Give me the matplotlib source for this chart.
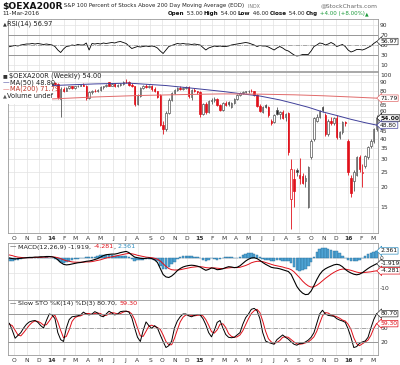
import numpy as np
import pandas as pd
import matplotlib
matplotlib.use('Agg')
import matplotlib.pyplot as plt
import matplotlib.dates as mdates
from matplotlib.patches import Rectangle
from matplotlib.transforms import IdentityTransform

# weekly bars, 20-Sep-2013 .. 11-Mar-2016
weeks = pd.date_range('2013-09-20', periods=130, freq='W-FRI')

opens = [84, 85, 86, 82, 85, 88, 86, 87, 84, 87, 89, 87, 85, 87, 88,
         88, 89, 88, 71, 82, 80, 83, 85, 83, 85, 86, 87, 86, 72, 78,
         80, 79, 81, 84, 85, 90, 86, 88, 85, 87, 88, 91, 90, 87, 85,
         66, 74, 83, 86, 84, 85, 82, 79, 75, 49, 46, 58, 70, 77, 81,
         83, 82, 83, 84, 73, 81, 79, 78, 57, 66, 59, 69, 70, 71, 65,
         61, 67, 68, 63, 67, 71, 75, 77, 78, 79, 80, 79, 75, 64, 59,
         65, 63, 52, 51, 61, 57, 59, 55, 58, 17, 22.5, 25.5, 24, 23.5, 22,
         15, 31, 40, 52, 55, 63, 56, 43, 52, 50, 54, 41, 44, 51, 39,
         23, 22, 24, 31, 24.5, 27, 31, 36, 39, 46]
highs = [86, 87, 87, 86, 89, 89, 88, 88, 88, 90, 90, 88, 88, 89, 90,
         90, 91, 89, 84, 84, 84, 86, 86, 86, 87, 88, 89, 87, 80, 81,
         82, 82, 85, 86, 88, 91, 89, 89, 88, 89, 92, 94, 92, 89, 86,
         76, 84, 87, 88, 87, 87, 84, 80, 76, 52, 60, 72, 78, 82, 84,
         85, 84, 85, 85, 82, 83, 80, 79, 67, 68, 70, 72, 73, 72, 66,
         68, 69, 69, 68, 72, 76, 78, 79, 80, 81, 82, 80, 76, 66, 64,
         66, 64, 53, 57, 63, 60, 61, 58, 59, 30, 26, 26.5, 30.5, 24.5, 24,
         27, 40, 55, 57, 61, 64, 58, 53, 55, 55, 56, 45, 52, 52, 40,
         24, 25.5, 31.5, 32, 28, 32, 36, 40, 47, 56]
lows = [82, 83, 81, 81, 84, 85, 84, 83, 83, 86, 86, 84, 84, 86, 87,
        86, 87, 71, 55, 78, 79, 82, 82, 82, 84, 85, 85, 70, 71, 76,
        78, 78, 80, 82, 84, 85, 85, 84, 84, 85, 87, 89, 86, 84, 64,
        65, 73, 82, 83, 83, 80, 78, 72, 48, 43, 45, 57, 69, 76, 80,
        81, 81, 82, 72, 70, 78, 76, 55, 56, 57, 58, 66, 68, 64, 60,
        60, 64, 64, 62, 66, 70, 74, 76, 77, 77, 78, 74, 63, 59, 58,
        62, 55, 49, 50, 56, 53, 53, 52, 32, 11, 15, 23.5, 21, 21, 20,
        14.8, 30, 39, 51, 54, 59, 42, 42, 49, 49, 40, 40, 43, 48, 24,
        17.5, 19, 23.5, 25, 20, 26.5, 30, 35, 38, 45]
closes = [85, 86, 82, 85, 88, 86, 87, 84, 87, 89, 87, 85, 87, 88, 89,
          89, 88, 73, 82, 80, 83, 85, 83, 85, 86, 87, 86, 72, 78, 80,
          79, 81, 84, 85, 87, 86, 88, 85, 87, 88, 91, 90, 87, 85, 66,
          74, 83, 86, 84, 85, 82, 79, 73, 49, 46, 58, 70, 77, 81, 83,
          82, 83, 84, 74, 81, 79, 78, 57, 66, 59, 69, 70, 71, 65, 61,
          67, 65, 66, 67, 71, 75, 77, 78, 79, 80, 79, 75, 64, 60, 63,
          63.5, 56, 50, 56, 57, 59, 54, 57, 33, 26, 19, 24.8, 23, 21.4, 23,
          26.8, 39, 54, 55, 60, 60.5, 43, 52, 50, 54, 41, 44, 51, 50, 25,
          18.5, 25, 31, 26, 25, 31.5, 35.5, 39, 46, 54]

ma50_idx = [0, 15, 30, 42, 55, 65, 75, 80, 88, 95, 100, 105, 110, 115, 120, 125, 129]
ma50_val = [83, 86, 88, 89, 86, 82.5, 79, 77, 74, 70, 66.5, 63, 59, 56, 53, 50.5, 48.8]
ma200_idx = [0, 15, 30, 45, 60, 75, 88, 100, 110, 120, 129]
ma200_val = [70, 71, 73, 74.5, 75.5, 76.3, 76, 75.3, 74.3, 73, 71.79]

rsi = [46.6, 48, 49, 48, 50, 51, 52, 52, 53, 52, 53, 52, 51, 52, 51,
       50, 47, 40, 35, 42, 47, 48, 50, 49, 51, 50, 50, 54, 40, 53,
       52, 53, 52, 54, 53, 54, 55, 54, 56, 57, 55, 53, 48, 43, 45,
       47, 46, 47, 48, 47, 48, 47, 44, 38, 33, 40, 47, 49, 51, 53,
       52, 53, 52, 52, 51, 52, 51, 50, 45, 40, 44, 46, 48, 47, 48,
       47, 47, 48, 50, 51, 52, 53, 54, 55, 54, 52, 50, 47, 49, 48,
       48, 46, 43, 40, 44, 47, 44, 40, 38, 34, 30, 28, 29, 31, 31,
       31, 38, 47, 50, 54, 53, 50, 52, 55, 52, 47, 49, 51, 47, 40,
       36, 38, 41, 41, 40, 42, 45, 48, 53, 56.97]

macd = [0, -0.2, -0.3, -0.2, -0.1, 0, 0.1, 0.2, 0.2, 0.3,
        0.3, 0.4, 0.4, 0.5, 0.5, 0.4, 0.1, -0.6, -1.5, -2.1,
        -2.3, -2.2, -2.0, -1.8, -1.6, -1.5, -1.3, -1.1, -1.0, -0.8,
        -0.5, -0.2, 0.3, 0.8, 1.1, 1.2, 1.3, 1.3, 1.5, 1.8,
        2.0, 2.2, 1.8, 1.0, 0.3, 0.1, -0.1, -0.2, -0.1, 0.0,
        -0.2, -0.6, -1.5, -3.5, -5.5, -6.3, -6.5, -6.0, -5.2, -4.2,
        -3.5, -3.0, -2.7, -2.5, -2.4, -2.5, -2.7, -3.0, -3.6, -4.1,
        -3.8, -3.3, -3.5, -3.9, -3.8, -3.6, -3.2, -2.9, -3.0, -3.2,
        -3.1, -2.6, -1.8, -1.0, -0.4, 0.0, 0.1, -0.2, -0.8, -1.5,
        -2.1, -2.6, -3.1, -3.3, -3.4, -3.6, -3.9, -4.2, -4.5, -5.5,
        -7.5, -9.5, -10.8, -11.7, -12.2, -12.1, -11.0, -9.2, -7.2, -5.5,
        -4.3, -3.6, -3.1, -2.7, -2.3, -2.1, -2.3, -2.9, -3.8, -4.5,
        -5.0, -5.4, -5.6, -5.4, -4.9, -4.2, -3.5, -2.9, -2.4, -1.919]
signal = [1.0, 0.8, 0.5, 0.3, 0.2, 0.1, 0.1, 0.1, 0.1, 0.2,
          0.2, 0.2, 0.3, 0.3, 0.4, 0.4, 0.3, 0.1, -0.2, -0.6,
          -0.9, -1.1, -1.3, -1.4, -1.4, -1.4, -1.4, -1.3, -1.3, -1.2,
          -1.0, -0.8, -0.6, -0.3, 0.0, 0.2, 0.4, 0.6, 0.8, 1.0,
          1.2, 1.4, 1.5, 1.4, 1.2, 0.9, 0.7, 0.5, 0.3, 0.2,
          0.1, -0.1, -0.4, -1.0, -1.9, -2.8, -3.5, -3.9, -4.0, -4.0,
          -3.9, -3.7, -3.5, -3.3, -3.1, -3.0, -2.9, -2.9, -3.0, -3.2,
          -3.3, -3.3, -3.3, -3.4, -3.5, -3.5, -3.4, -3.3, -3.2, -3.2,
          -3.2, -3.1, -2.8, -2.5, -2.1, -1.6, -1.3, -1.1, -1.1, -1.2,
          -1.5, -1.8, -2.1, -2.4, -2.6, -2.8, -3.0, -3.3, -3.5, -3.9,
          -4.6, -5.6, -6.6, -7.7, -8.6, -9.3, -9.7, -9.6, -9.1, -8.4,
          -7.6, -6.8, -6.1, -5.4, -4.8, -4.3, -3.9, -3.7, -3.7, -3.9,
          -4.1, -4.4, -4.7, -4.9, -4.9, -4.8, -4.7, -4.6, -4.4, -4.281]

sto_k = [60, 45, 28, 34, 40, 50, 58, 63, 65, 66, 62, 55, 50, 66, 80,
         78, 70, 40, 25, 21, 50, 68, 74, 75, 76, 78, 84, 80, 78, 80,
         85, 82, 76, 74, 80, 86, 82, 78, 80, 85, 86, 86, 84, 72, 50,
         30, 21, 45, 63, 55, 49, 55, 50, 35, 21, 8, 12, 22, 50, 65,
         74, 80, 80, 76, 74, 77, 79, 78, 70, 57, 40, 31, 45, 62, 66,
         50, 36, 30, 29, 30, 35, 40, 58, 72, 80, 90, 92, 87, 70, 40,
         22, 19, 17, 15, 25, 30, 35, 30, 26, 20, 15, 13, 17, 17, 20,
         24, 30, 40, 60, 80, 88, 80, 77, 76, 75, 70, 67, 65, 62, 48,
         30, 8, 10, 17, 20, 22, 30, 50, 68, 80.7]
sto_d = [58, 55, 45, 35, 33, 40, 48, 56, 62, 65, 64, 61, 56, 57, 65,
         74, 77, 63, 45, 29, 32, 46, 64, 72, 75, 76, 79, 81, 81, 79,
         81, 82, 81, 77, 77, 80, 83, 82, 80, 81, 84, 86, 85, 80, 68,
         50, 33, 32, 43, 54, 56, 53, 51, 47, 35, 21, 14, 14, 28, 46,
         63, 73, 78, 78, 77, 76, 77, 78, 76, 68, 56, 42, 39, 46, 58,
         59, 51, 38, 32, 30, 31, 35, 44, 57, 70, 81, 87, 90, 83, 65,
         43, 27, 20, 17, 19, 23, 30, 31, 30, 25, 20, 16, 15, 16, 18,
         20, 25, 31, 43, 60, 76, 83, 82, 78, 76, 74, 71, 67, 65, 58,
         47, 29, 16, 12, 16, 20, 24, 34, 49, 59.3]

month_starts = pd.date_range('2013-10-01', '2016-03-01', freq='MS')
month_labels = [str(d.year)[2:] if d.month == 1 else 'JFMAMJJASOND'[d.month - 1] for d in month_starts]

RED = '#e0101a'
BLUE_MA = '#40409a'
PINK_MA = '#e06a6a'
TEAL = '#2f8fc0'
GRID = '#e2e2e2'
FS = 4.3
LFS = 4.8   # panel legend text

xd = mdates.date2num(weeks)
xm = mdates.date2num(month_starts)

fig = plt.figure(figsize=(4, 3.65), dpi=100)
fig.patch.set_facecolor('white')


def panel(top, bottom):
    return fig.add_axes([8 / 400, 1 - bottom / 365, 370 / 400, (bottom - top) / 365])


ax_rsi = panel(19, 71)
ax_px = panel(72, 233)
ax_macd = panel(243, 300)
ax_sto = panel(300, 355)

for ax in (ax_rsi, ax_px, ax_macd, ax_sto):
    ax.set_xlim(xd[0] - 3.5, xd[-1] + 3.5)
    for s in ax.spines.values():
        s.set_color('#9a9a9a')
        s.set_linewidth(0.6)
    ax.set_xticks(xm)
    ax.set_xticklabels(month_labels)
    for t, lab in zip(ax.get_xticklabels(), month_labels):
        if lab.isdigit():
            t.set_fontweight('bold')
    ax.yaxis.tick_right()
    ax.tick_params(axis='both', length=0, labelsize=FS, colors='#333333', pad=1.5)
    ax.tick_params(axis='x', labelbottom=False)
    ax.grid(True, color=GRID, lw=0.5)
    ax.set_axisbelow(True)
ax_px.tick_params(axis='x', labelbottom=True, pad=2)
ax_sto.tick_params(axis='x', labelbottom=True, pad=2)


def tag(ax, y, txt, ec, tc='#111111', bold=False):
    ax.text(1.006, y, txt, transform=ax.get_yaxis_transform(), fontsize=FS, color=tc,
            va='center', ha='left', fontweight='bold' if bold else 'normal', clip_on=False, zorder=10,
            bbox=dict(boxstyle='larrow,pad=0.12', fc='white', ec=ec, lw=0.5))


def run_text(x0, ytop, parts):
    # lay out text pieces left to right in pixel coordinates
    r = fig.canvas.get_renderer()
    x = x0
    for s, kw in parts:
        t = fig.text(x, 365 - ytop, s, transform=IdentityTransform(), va='center', ha='left', **kw)
        x += t.get_window_extent(renderer=r).width


# ---- RSI
ax_rsi.plot(xd, rsi, color='black', lw=0.6)
ax_rsi.set_ylim(-2, 102)
ax_rsi.set_yticks([10, 30, 50, 70, 90])
ax_rsi.axhline(70, color='#8a8a8a', lw=0.6)
ax_rsi.axhline(30, color='#8a8a8a', lw=0.6)
ax_rsi.axhline(50, color='#8a8a8a', lw=0.5, ls='-.')
tag(ax_rsi, rsi[-1], '%.2f' % rsi[-1], '#333333')

# ---- price candles
o, h, l, c = (np.array(v, dtype=float) for v in (opens, highs, lows, closes))
prev = np.r_[c[0], c[:-1]]
edge = np.where(c < prev, RED, '#555555')
face = np.where(c < o, np.where(c < prev, RED, '#222222'), 'white')
ax_px.set_yscale('log')
ax_px.vlines(xd, l, h, colors=edge, lw=0.6, zorder=2)
ax_px.bar(xd, np.abs(c - o), bottom=np.minimum(o, c), width=3.6, color=face,
          edgecolor=edge, linewidth=0.5, zorder=3)
ax_px.plot(xd[ma50_idx], ma50_val, color=BLUE_MA, lw=0.7, zorder=4)
ax_px.plot(xd[ma200_idx], ma200_val, color=PINK_MA, lw=0.7, zorder=4)
ax_px.set_ylim(10.4, 104.4)
pticks = [15, 20, 25, 30, 35, 40, 45, 50, 55, 60, 65, 70, 80, 90, 100]
ax_px.yaxis.set_major_locator(matplotlib.ticker.FixedLocator(pticks))
ax_px.yaxis.set_minor_locator(matplotlib.ticker.NullLocator())
ax_px.set_yticklabels(['' if v in (50, 55, 70) else str(v) for v in pticks])
ax_px.add_patch(Rectangle((0, 0.80), 0.12, 0.2, transform=ax_px.transAxes, fc='white', ec='none', zorder=5))
tag(ax_px, ma200_val[-1], '71.79', PINK_MA)
tag(ax_px, c[-1], '54.00', '#111111', bold=True)
tag(ax_px, ma50_val[-1], '48.80', BLUE_MA)

# ---- MACD
hist = np.array(macd) - np.array(signal)
ax_macd.bar(xd, hist, width=6.2, color='#4ea3d4', edgecolor='#2a6f9a', linewidth=0.3, zorder=2)
ax_macd.plot(xd, signal, color=RED, lw=0.7, zorder=3)
ax_macd.plot(xd, macd, color='black', lw=0.8, zorder=4)
ax_macd.set_ylim(-14, 5)
ax_macd.set_yticks([0, -5, -10])
ax_macd.set_yticklabels(['0', '', '-10'])
tag(ax_macd, hist[-1], '2.361', TEAL)
tag(ax_macd, macd[-1], '-1.919', '#333333')
tag(ax_macd, signal[-1], '-4.281', RED)

# ---- Slow stochastic
ax_sto.plot(xd, sto_d, color=RED, lw=0.7)
ax_sto.plot(xd, sto_k, color='black', lw=0.7)
ax_sto.set_ylim(-8, 110)
ax_sto.set_yticks([20, 50, 80])
ax_sto.set_yticklabels(['20', '50', ''])
ax_sto.axhline(80, color='#8a8a8a', lw=0.6)
ax_sto.axhline(20, color='#8a8a8a', lw=0.6)
ax_sto.axhline(50, color='#8a8a8a', lw=0.5, ls='-.')
tag(ax_sto, sto_k[-1], '80.70', '#333333')
tag(ax_sto, sto_d[-1], '59.30', RED, tc=RED)

fig.canvas.draw()

# ---- header
small = dict(fontsize=4.1, color='#222222')
leg = dict(fontsize=LFS, color='#222222')
bold = dict(fontsize=4.1, fontweight='bold', color='#111111')
run_text(2, 6, [('$OEXA200R', dict(fontsize=6.6, fontweight='bold', color='#111111')),
                (' S&P 100 Percent of Stocks Above 200 Day Moving Average (EOD)', dict(fontsize=4.0, color='#222222')),
                ('  INDX', dict(fontsize=3.4, color='#777777'))])
fig.text(378 / 400, 1 - 6 / 365, '@StockCharts.com', fontsize=4.3, color='#666666', ha='right', va='center')
fig.text(2 / 400, 1 - 13.5 / 365, '11-Mar-2016', fontsize=4.2, color='#222222', va='center')
GREEN = '#1a9a3a'
run_text(168, 13.5, [('Open', bold), (' 53.00 ', small),
                     ('High', bold), (' 54.00 ', small),
                     ('Low', bold), (' 46.00 ', small),
                     ('Close', bold), (' 54.00 ', small),
                     ('Chg', bold),
                     (' +4.00 (+8.00%)', dict(fontsize=4.0, color=GREEN)),
                     ('\u25b2', dict(fontsize=3.4, color=GREEN))])

# ---- panel legends
run_text(3, 24, [('\u25b2', dict(fontsize=3.6, color='#333333')), ('RSI(14) 56.97', leg)])
run_text(3, 76, [('\u25a0 ', dict(fontsize=3.6, color='#333333')), ('$OEXA200R (Weekly) 54.00', leg)])
run_text(3, 82.5, [('\u2014', dict(fontsize=LFS, color=BLUE_MA)), ('MA(50) 48.80', leg)])
run_text(3, 89, [('\u2014', dict(fontsize=LFS, color=PINK_MA)), ('MA(200) 71.79', dict(fontsize=LFS, color='#c0392b'))])
run_text(3, 95.5, [('\u25b2', dict(fontsize=3.6, color='#555555')), ('Volume undef', leg)])
mleg = dict(fontsize=4.6, color='#222222')
run_text(10, 247, [('\u2014 ', dict(fontsize=4.6, color='black')), ('MACD(12,26,9) -1.919, ', mleg),
                   ('-4.281', dict(fontsize=4.6, color=RED)), (', ', mleg),
                   ('2.361', dict(fontsize=4.6, color=TEAL))])
run_text(10, 303.5, [('\u2014 ', dict(fontsize=4.6, color='black')), ('Slow STO %K(14) %D(3) 80.70, ', mleg),
                     ('59.30', dict(fontsize=4.6, color=RED))])

fig.savefig('out.png', dpi=100, facecolor='white')
